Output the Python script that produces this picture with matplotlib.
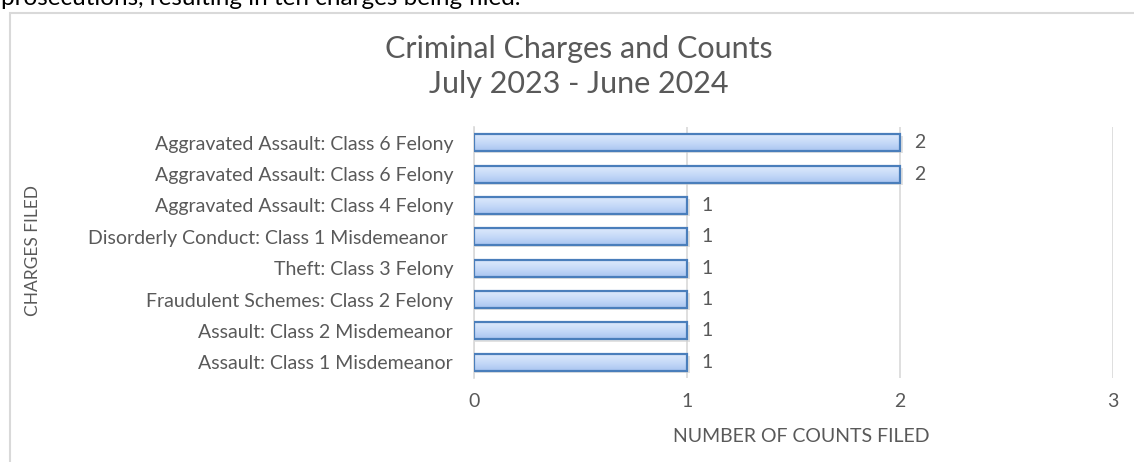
import matplotlib
matplotlib.use("Agg")
import matplotlib.pyplot as plt
import numpy as np
from matplotlib.patches import Rectangle
from matplotlib.colors import LinearSegmentedColormap

categories = [
    "Aggravated Assault: Class 6 Felony",
    "Aggravated Assault: Class 6 Felony",
    "Aggravated Assault: Class 4 Felony",
    "Disorderly Conduct: Class 1 Misdemeanor ",
    "Theft: Class 3 Felony",
    "Fraudulent Schemes: Class 2 Felony",
    "Assault: Class 2 Misdemeanor",
    "Assault: Class 1 Misdemeanor",
]
counts = [2, 2, 1, 1, 1, 1, 1, 1]
xticks = [0, 1, 2, 3]

plt.rcParams['font.family'] = ['Lato', 'DejaVu Sans']
W, H = 1134, 462
fig = plt.figure(figsize=(W / 100, H / 100), dpi=100)

# chart border
fig.patches.append(Rectangle((10 / W, -0.1), 1.2, (H - 13) / H + 0.1, transform=fig.transFigure,
                             fill=False, edgecolor='#d9d9d9', linewidth=1.5))
# clipped body text above
fig.text(1 / W, 1 - 5 / H, "prosecutions, resulting in ten charges being filed.", fontsize=17.5,
         color='black', va='baseline', ha='left')

ax = fig.add_axes([474 / W, 1 - 378 / H, (1113 - 474) / W, (378 - 127) / H])
n = len(categories)
y = np.arange(n)[::-1]
ax.set_xlim(0, 3)
ax.set_ylim(-0.5, n - 0.5)
bh = 0.54

grad = np.linspace(0, 1, 64).reshape(-1, 1)
cmap = LinearSegmentedColormap.from_list('g', ['#a9c5f0', '#c6daf8', '#dde9fc'])

for yi, v in zip(y, counts):
    ax.add_patch(Rectangle((0.005, yi - bh / 2 - 0.07), v + 0.008, bh, facecolor='#cfcfcf',
                           edgecolor='none', zorder=2, alpha=0.6))
    ax.add_patch(Rectangle((0, yi - bh / 2), v, bh, facecolor='none', edgecolor='#4a7ebb',
                           linewidth=1.6, zorder=4))
    im = ax.imshow(grad, extent=(0, v, yi - bh / 2, yi + bh / 2), cmap=cmap, aspect='auto',
                   origin='lower', zorder=3)
    im.set_clip_path(Rectangle((0, yi - bh / 2), v, bh, transform=ax.transData))
    ax.text(v + 0.068, yi, str(v), va='center', ha='left', fontsize=14, color='#595959')

ax.set_xlim(0, 3)
ax.set_ylim(-0.5, n - 0.5)
ax.set_xticks(xticks)
ax.set_xticklabels([str(t) for t in xticks])
ax.set_yticks(y)
ax.set_yticklabels(categories)
ax.tick_params(axis='both', length=0, labelsize=14, labelcolor='#595959')
ax.tick_params(axis='x', pad=11)
ax.tick_params(axis='y', pad=15)
ax.grid(axis='x', color='#d9d9d9', linewidth=1.2, zorder=0)
ax.set_axisbelow(True)
for s in ['top', 'right', 'bottom']:
    ax.spines[s].set_visible(False)
ax.spines['left'].set_color('#d9d9d9')
ax.spines['left'].set_linewidth(1.2)

fig.text(579 / W, 1 - 49 / H, "Criminal Charges and Counts", ha='center', va='center',
         fontsize=22, color='#595959')
fig.text(579 / W, 1 - 84 / H, "July 2023 - June 2024", ha='center', va='center',
         fontsize=22, color='#595959')
fig.text(801 / W, 1 - 437 / H, "NUMBER OF COUNTS FILED", ha='center', va='center',
         fontsize=14, color='#595959')
fig.text(33 / W, 1 - 251 / H, "CHARGES FILED", ha='center', va='center', rotation=90,
         fontsize=12.5, color='#595959')

fig.savefig("out.png", dpi=100, facecolor='white')
